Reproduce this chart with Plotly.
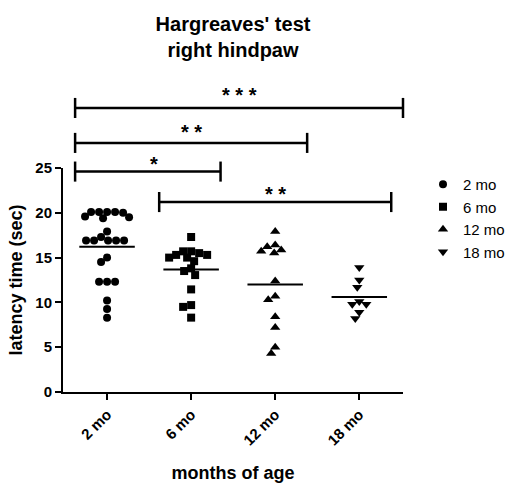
import numpy as np
import plotly.graph_objects as go

categories = ["2 mo", "6 mo", "12 mo", "18 mo"]
symbols = ["circle", "square", "triangle-up", "triangle-down"]

vals_2mo = [20.1, 20.1, 20.0, 20.1, 19.5, 19.4, 19.6, 20.1,
            17.3, 16.9, 16.9, 16.9, 16.9, 16.9, 17.9,
            15.0, 14.5, 12.3, 12.3, 12.3, 10.2, 9.25, 8.3]
vals_6mo = [17.3, 15.5, 15.7, 15.3, 15.0, 14.6, 15.7, 15.0, 15.3,
            13.8, 13.05, 13.5, 11.45, 9.7, 9.5, 8.3]
vals_12mo = [17.9, 16.4, 15.85, 15.5, 15.7, 16.2, 12.4, 10.3, 10.7,
             8.4, 7.2, 4.3, 5.0]
vals_18mo = [13.9, 12.5, 11.7, 10.1, 9.8, 9.8, 8.9, 8.2]
groups = [vals_2mo, vals_6mo, vals_12mo, vals_18mo]

y_ticks = [0, 5, 10, 15, 20, 25]

# significance brackets: (start x, end x, height, label, label height)
brackets = [(-0.38, 3.52, 31.7, "* * *", 33.2),
            (-0.38, 2.38, 27.8, "* *", 29.0),
            (-0.38, 1.35, 24.6, "*", 25.5),
            (0.62, 3.38, 21.2, "* *", 22.1)]

XR = (-0.524, 3.52)
YR = (0, 25)
L, R, T, B = 63, 113, 168, 91
W, H = 516, 483
pw = W - L - R
ph = H - T - B
ppx = pw / (XR[1] - XR[0])
ppy = ph / (YR[1] - YR[0])


def swarm(values, diam=8.0, step=1.0):
    order = np.argsort(-np.asarray(values), kind="stable")
    placed = []
    offs = np.zeros(len(values))
    cands = [0.0]
    for k in range(1, 60):
        cands += [-k * step, k * step]
    for i in order:
        yp = values[i] * ppy
        for c in cands:
            ok = True
            for (xq, yq) in placed:
                if (c - xq) ** 2 + (yp - yq) ** 2 < diam ** 2 * 0.85:
                    ok = False
                    break
            if ok:
                offs[i] = c
                placed.append((c, yp))
                break
    return offs / ppx


fig = go.Figure()
for gi, (name, sym, vals) in enumerate(zip(categories, symbols, groups)):
    offs = swarm(vals)
    xs = gi + offs
    size = 8 if sym in ("circle", "square") else 9
    fig.add_trace(go.Scatter(
        x=xs, y=vals, mode="markers", name=name,
        marker=dict(symbol=sym, size=size, color="black", line=dict(width=0)),
        cliponaxis=False))
    m = float(np.mean(vals))
    fig.add_shape(type="line", xref="x", yref="y", x0=gi - 0.33, x1=gi + 0.33,
                  y0=m, y1=m, line=dict(color="black", width=2))


def fx(x):
    return (x - XR[0]) / (XR[1] - XR[0])


def fy(y):
    return (y - YR[0]) / (YR[1] - YR[0])


tick_h = 1.12
for (x0, x1, y, lab, ly) in brackets:
    for (a0, a1, b0, b1) in [(x0, x1, y, y), (x0, x0, y - tick_h, y + tick_h),
                             (x1, x1, y - tick_h, y + tick_h)]:
        fig.add_shape(type="line", xref="x domain", yref="y domain",
                      x0=fx(a0), x1=fx(a1), y0=fy(b0), y1=fy(b1),
                      line=dict(color="black", width=2.5))
    fig.add_annotation(x=fx((x0 + x1) / 2), y=fy(ly),
                       xref="x domain", yref="y domain",
                       text=lab, showarrow=False, yanchor="middle",
                       font=dict(size=20, color="black", weight="bold",
                                 family="Liberation Sans, Arial"))

fig.update_layout(
    width=W, height=H,
    margin=dict(l=L, r=R, t=T, b=B, autoexpand=False),
    plot_bgcolor="white", paper_bgcolor="white",
    font=dict(family="Liberation Sans, Arial", color="black"),
    title=dict(text="Hargreaves' test<br>right hindpaw", x=0.5, xref="paper",
               y=1 - 31 / H, yref="container", yanchor="middle",
               font=dict(size=20, weight="bold", color="black"),
               automargin=False),
    showlegend=True,
    legend=dict(x=(423 - L) / pw, y=1.0, xanchor="left", yanchor="top",
                font=dict(size=15, color="black"), bgcolor="rgba(0,0,0,0)",
                tracegroupgap=0),
    xaxis=dict(range=list(XR), tickvals=[0, 1, 2, 3], ticktext=categories,
               tickangle=-45, showline=True, linecolor="black", linewidth=2,
               ticks="outside", ticklen=6, tickwidth=2, tickcolor="black",
               showgrid=False, zeroline=False, automargin=False,
               tickfont=dict(size=15, weight="bold"),
               title=dict(text="months of age", standoff=26,
                          font=dict(size=18, weight="bold"))),
    yaxis=dict(range=list(YR), tickvals=y_ticks, showline=True,
               linecolor="black", linewidth=2, ticks="outside", ticklen=6,
               tickwidth=2, tickcolor="black", showgrid=False, zeroline=False,
               automargin=False,
               tickfont=dict(size=15, weight="bold"),
               title=dict(text="latency time (sec)", standoff=8,
                          font=dict(size=18, weight="bold"))),
)

fig.write_html("out.html")
